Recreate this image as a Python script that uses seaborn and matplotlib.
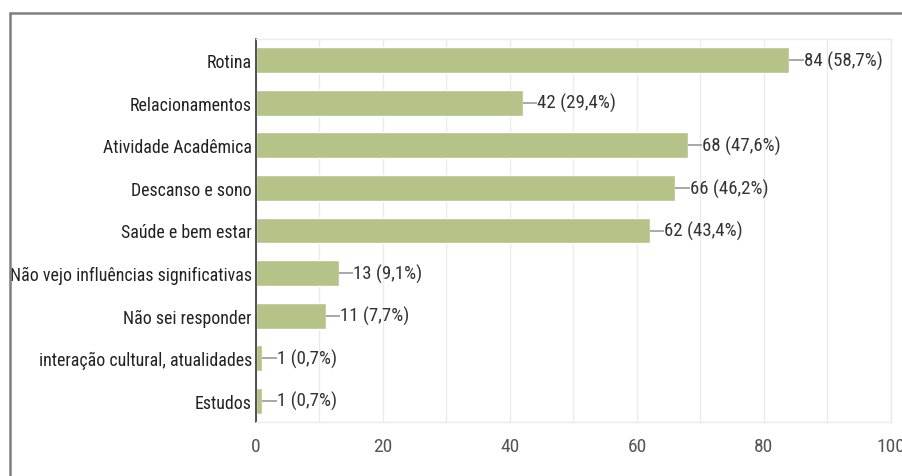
import matplotlib
matplotlib.use("Agg")
import matplotlib.pyplot as plt
from matplotlib.lines import Line2D
from matplotlib.ticker import MultipleLocator
import seaborn as sns
import pandas as pd

categories = [
    "Rotina",
    "Relacionamentos",
    "Atividade Acadêmica",
    "Descanso e sono",
    "Saúde e bem estar",
    "Não vejo influências significativas",
    "Não sei responder",
    "interação cultural, atualidades",
    "Estudos",
]
counts = [84, 42, 68, 66, 62, 13, 11, 1, 1]
percents = ["58,7", "29,4", "47,6", "46,2", "43,4", "9,1", "7,7", "0,7", "0,7"]
x_ticks = [0, 20, 40, 60, 80, 100]

sns.set_theme(style="white")
plt.rcParams["font.family"] = ["Roboto Condensed", "Archivo Narrow", "Roboto", "DejaVu Sans"]

W, H = 903, 477
fig = plt.figure(figsize=(W / 100, H / 100), dpi=100)
ax = fig.add_axes([256 / W, 1 - 423 / H, (891 - 256) / W, (423 - 40) / H])

df = pd.DataFrame({"categoria": categories, "respostas": counts})
sns.barplot(data=df, x="respostas", y="categoria", orient="h",
            color="#b5c388", saturation=1, width=0.61, ax=ax, zorder=2)

ax.set_xlabel("")
ax.set_ylabel("")
ax.set_xticks(x_ticks)
ax.set_xticklabels([str(t) for t in x_ticks])
ax.xaxis.set_minor_locator(MultipleLocator(10))
ax.grid(axis="x", which="both", color="#ebebeb", linewidth=1, zorder=0)
ax.set_axisbelow(True)
ax.tick_params(axis="x", which="both", length=0, pad=11, labelsize=14, colors="#555555")
ax.tick_params(axis="y", length=0, pad=3, labelsize=12.9, colors="#222222")

for side in ("top", "right", "bottom"):
    ax.spines[side].set_color("#ebebeb")
    ax.spines[side].set_linewidth(1)
ax.spines["left"].set_color("#333333")
ax.spines["left"].set_linewidth(1.2)

# value labels with a short leader line
for i, (v, p) in enumerate(zip(counts, percents)):
    ax.plot([v, v + 2.3], [i, i], color="#999999", linewidth=1.2, zorder=3,
            solid_capstyle="butt")
    ax.text(v + 2.3, i, f"{v} ({p}%)", va="center", ha="left",
            fontsize=13.6, color="#333333", zorder=4)

ax.set_xlim(0, 100)
ax.set_ylim(len(categories) - 0.5, -0.5)

# outer frame (top and left edges)
fig.add_artist(Line2D([10 / W, 1.0], [1 - 14 / H, 1 - 14 / H],
                      color="#808080", linewidth=1.8))
fig.add_artist(Line2D([10 / W, 10 / W], [0, 1 - 14 / H],
                      color="#808080", linewidth=1.8))

fig.savefig("out.png", dpi=100)
